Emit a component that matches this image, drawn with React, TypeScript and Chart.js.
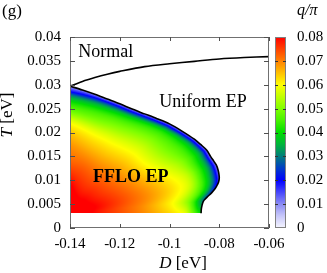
import React, { useEffect, useRef } from 'react';
import { Chart, registerables } from 'chart.js';

Chart.register(...registerables);

// ---------- axes ----------
const xTicks = [-0.14, -0.12, -0.1, -0.08, -0.06];
const yTicks = [0, 0.005, 0.01, 0.015, 0.02, 0.025, 0.03, 0.035, 0.04];
const cbTicks = [0, 0.01, 0.02, 0.03, 0.04, 0.05, 0.06, 0.07, 0.08];

// ---------- phase boundaries ----------
const normalD = [-0.14, -0.135, -0.13, -0.125, -0.12, -0.11, -0.1, -0.09, -0.08, -0.07, -0.06];
const normalT = [0.0297, 0.0307, 0.0315, 0.0322, 0.0328, 0.0338, 0.0344, 0.0349, 0.0354, 0.0357, 0.0359];

const ffloD = [-0.14, -0.135, -0.13, -0.125, -0.12, -0.115, -0.11, -0.105, -0.1, -0.095, -0.09, -0.0875, -0.085, -0.0835, -0.0822, -0.0812, -0.0805, -0.0801, -0.08, -0.0803, -0.0809, -0.0817, -0.083, -0.0844, -0.0856, -0.0864, -0.0869, -0.0872, -0.0873];
const ffloT = [0.0297, 0.0289, 0.028, 0.027, 0.026, 0.0249, 0.0239, 0.0229, 0.0218, 0.0203, 0.0186, 0.0175, 0.0163, 0.015, 0.014, 0.0132, 0.0122, 0.0112, 0.0104, 0.0096, 0.0089, 0.0082, 0.0074, 0.0067, 0.0061, 0.0056, 0.0048, 0.004, 0.0031];
const ffloBottomT = 0.0031;

// ---------- q/pi field, sampled along rays from the lower-left corner ----------
// ray angle (deg) and fraction of the way to the FFLO boundary
const rayAngles = [0, 7.5, 15, 30, 45, 60, 75, 90];
const rayRho = [0, 0.2, 0.4, 0.55, 0.7, 0.8, 0.88, 0.93, 0.96, 0.98, 1.0];
const qRay0 = [0.086, 0.079, 0.0735, 0.0695, 0.065, 0.0617, 0.058, 0.05, 0.045, 0.042, 0.04];
const qRay7 = [0.086, 0.079, 0.073, 0.0685, 0.0625, 0.057, 0.049, 0.041, 0.034, 0.029, 0.025];
const qRay15 = [0.086, 0.079, 0.0725, 0.0675, 0.0615, 0.056, 0.045, 0.036, 0.028, 0.02, 0.012];
const qRay30 = [0.086, 0.078, 0.071, 0.0645, 0.0565, 0.0505, 0.045, 0.039, 0.031, 0.021, 0.012];
const qRay45 = [0.086, 0.078, 0.071, 0.065, 0.058, 0.052, 0.046, 0.04, 0.03, 0.02, 0.012];
const qRay60 = [0.086, 0.078, 0.0715, 0.0655, 0.0585, 0.0515, 0.045, 0.038, 0.028, 0.019, 0.011];
const qRay75 = [0.087, 0.079, 0.0725, 0.0665, 0.059, 0.05, 0.043, 0.035, 0.026, 0.018, 0.01];
const qRay90 = [0.088, 0.0815, 0.0725, 0.068, 0.0605, 0.049, 0.04, 0.03, 0.019, 0.014, 0.01];
const qRays = [qRay0, qRay7, qRay15, qRay30, qRay45, qRay60, qRay75, qRay90];

// ---------- colour map ----------
const cmapQ = [0, 0.005, 0.01, 0.015, 0.02, 0.025, 0.03, 0.035, 0.04, 0.045, 0.05, 0.055, 0.06, 0.065, 0.07, 0.075, 0.08];
const cmapRGB = [
  [246, 246, 255], [200, 200, 250], [140, 140, 245], [70, 70, 252], [0, 0, 255],
  [0, 60, 200], [0, 125, 125], [0, 180, 60], [0, 222, 0], [70, 242, 0],
  [128, 255, 0], [192, 255, 0], [255, 255, 0], [255, 192, 0], [255, 128, 0],
  [255, 64, 0], [255, 0, 0],
];

const FONT = 'Liberation Serif';

function clamp01(v: number) { return v < 0 ? 0 : v > 1 ? 1 : v; }
function findIdx(arr: number[], v: number) {
  let k = 0;
  while (k < arr.length - 2 && v > arr[k + 1]) k++;
  return k;
}
// cubic Hermite (Catmull-Rom style slopes) through tabulated points
function hermite(xs: number[], ys: number[], x: number) {
  const n = xs.length;
  const k = findIdx(xs, x);
  const h = xs[k + 1] - xs[k];
  const t = clamp01((x - xs[k]) / h);
  const slope = (i: number) => {
    if (i <= 0) return (ys[1] - ys[0]) / (xs[1] - xs[0]);
    if (i >= n - 1) return (ys[n - 1] - ys[n - 2]) / (xs[n - 1] - xs[n - 2]);
    return (ys[i + 1] - ys[i - 1]) / (xs[i + 1] - xs[i - 1]);
  };
  const m0 = slope(k), m1 = slope(k + 1);
  const t2 = t * t, t3 = t2 * t;
  return (2 * t3 - 3 * t2 + 1) * ys[k] + (t3 - 2 * t2 + t) * h * m0 + (-2 * t3 + 3 * t2) * ys[k + 1] + (t3 - t2) * h * m1;
}
function qToRGB(q: number): number[] {
  const n = cmapQ.length;
  if (q <= cmapQ[0]) return cmapRGB[0];
  if (q >= cmapQ[n - 1]) return cmapRGB[n - 1];
  const k = findIdx(cmapQ, q);
  const t = (q - cmapQ[k]) / (cmapQ[k + 1] - cmapQ[k]);
  const a = cmapRGB[k], b = cmapRGB[k + 1];
  return [a[0] + (b[0] - a[0]) * t, a[1] + (b[1] - a[1]) * t, a[2] + (b[2] - a[2]) * t];
}
function sampleQ(theta: number, rho: number) {
  const vals = qRays.map((ray) => hermite(rayRho, ray, rho));
  return hermite(rayAngles, vals, theta);
}

const heatPlugin = {
  id: 'heat',
  beforeDatasetsDraw(chart: any) {
    const { ctx, scales } = chart;
    const xs = scales.x, ys = scales.y;
    const ox = xs.getPixelForValue(ffloD[0]);
    const oy = ys.getPixelForValue(ffloBottomT);
    const pts = ffloD.map((d, i) => [xs.getPixelForValue(d) - ox, oy - ys.getPixelForValue(ffloT[i])]);
    const ang = pts.map(([a, b]) => (Math.atan2(b, a) * 180) / Math.PI);
    let maxX = 0, maxY = 0;
    pts.forEach(([a, b]) => { maxX = Math.max(maxX, a); maxY = Math.max(maxY, b); });
    const x0 = Math.floor(ox), y0 = Math.floor(oy - maxY) - 1;
    const w = Math.ceil(maxX) + 2, h = Math.ceil(oy) - y0 + 1;
    const off = document.createElement('canvas');
    off.width = w; off.height = h;
    const octx = off.getContext('2d')!;
    const img = octx.createImageData(w, h);
    for (let j = 0; j < h; j++) {
      for (let i = 0; i < w; i++) {
        const px = x0 + i + 0.5, py = y0 + j + 0.5;
        const dx = px - ox, dy = oy - py;
        if (dx <= 0 || dy <= 0) continue;
        const th = (Math.atan2(dy, dx) * 180) / Math.PI;
        let k = 0;
        while (k < pts.length - 2 && th < ang[k + 1]) k++;
        const ax = pts[k][0], ay = pts[k][1];
        const ddx = pts[k + 1][0] - ax, ddy = pts[k + 1][1] - ay;
        const ux = Math.cos((th * Math.PI) / 180), uy = Math.sin((th * Math.PI) / 180);
        const R = (ax * ddy - ay * ddx) / (ux * ddy - uy * ddx);
        const r = Math.hypot(dx, dy);
        if (r > R) continue;
        const c = qToRGB(sampleQ(th, r / R));
        const idx = (j * w + i) * 4;
        img.data[idx] = c[0]; img.data[idx + 1] = c[1]; img.data[idx + 2] = c[2]; img.data[idx + 3] = 255;
      }
    }
    octx.putImageData(img, 0, 0);
    ctx.drawImage(off, x0, y0);
  },
};

const decorPlugin = {
  id: 'decor',
  afterDatasetsDraw(chart: any) {
    const { ctx, chartArea: ca, scales } = chart;
    const xs = scales.x, ys = scales.y, cb = scales.cb;
    ctx.save();
    // frame
    ctx.strokeStyle = '#707070';
    ctx.lineWidth = 1;
    ctx.strokeRect(Math.round(ca.left) + 0.5, Math.round(ca.top) + 0.5, Math.round(ca.right - ca.left) - 1, Math.round(ca.bottom - ca.top) - 1);
    ctx.strokeStyle = '#505050';
    ctx.beginPath();
    xTicks.forEach((v) => {
      const p = Math.round(xs.getPixelForValue(v)) + 0.5;
      ctx.moveTo(p, ca.bottom); ctx.lineTo(p, ca.bottom - 4);
      ctx.moveTo(p, ca.top); ctx.lineTo(p, ca.top + 4);
    });
    yTicks.forEach((v) => {
      const p = Math.round(ys.getPixelForValue(v)) + 0.5;
      ctx.moveTo(ca.left, p); ctx.lineTo(ca.left + 5, p);
      ctx.moveTo(ca.right, p); ctx.lineTo(ca.right - 5, p);
    });
    ctx.stroke();

    // colour bar
    const barL = Math.round(ca.right) + 6, barW = 11;
    const top = Math.round(cb.getPixelForValue(cbTicks[cbTicks.length - 1]));
    const bot = Math.round(cb.getPixelForValue(cbTicks[0]));
    for (let yy = top; yy < bot; yy++) {
      const c = qToRGB(cb.getValueForPixel(yy + 0.5));
      ctx.fillStyle = `rgb(${c[0] | 0},${c[1] | 0},${c[2] | 0})`;
      ctx.fillRect(barL, yy, barW, 1);
    }
    ctx.strokeStyle = '#808080';
    ctx.strokeRect(barL + 0.5, top + 0.5, barW - 1, bot - top - 1);
    ctx.strokeStyle = '#333';
    ctx.beginPath();
    cbTicks.slice(1, -1).forEach((v) => {
      const p = Math.round(cb.getPixelForValue(v)) + 0.5;
      ctx.moveTo(barL, p); ctx.lineTo(barL + 3, p);
      ctx.moveTo(barL + barW - 3, p); ctx.lineTo(barL + barW, p);
    });
    ctx.stroke();

    // texts
    ctx.fillStyle = '#000';
    ctx.textBaseline = 'alphabetic';
    ctx.textAlign = 'left';
    ctx.font = `18px "${FONT}"`;
    ctx.fillText('Normal', xs.getPixelForValue(-0.1367), ys.getPixelForValue(0.0358));
    ctx.fillText('Uniform EP', xs.getPixelForValue(-0.1041), ys.getPixelForValue(0.0253));
    ctx.font = `bold 18px "${FONT}"`;
    ctx.fillText('FFLO EP', xs.getPixelForValue(-0.1308), ys.getPixelForValue(0.0096));

    ctx.font = `17px "${FONT}"`;
    ctx.fillText('(g)', 2, 16);
    ctx.font = `italic 16px "${FONT}"`;
    ctx.fillText('q/\u03c0', 297, 15);

    // axis titles
    const drawTitle = (ital: string, rest: string, cx: number, cy: number, rot: boolean) => {
      ctx.save();
      ctx.translate(cx, cy);
      if (rot) ctx.rotate(-Math.PI / 2);
      ctx.font = `italic 17px "${FONT}"`;
      const w1 = ctx.measureText(ital).width;
      ctx.font = `17px "${FONT}"`;
      const w2 = ctx.measureText(rest).width;
      const start = -(w1 + w2) / 2;
      ctx.font = `italic 17px "${FONT}"`;
      ctx.fillText(ital, start, 0);
      ctx.font = `17px "${FONT}"`;
      ctx.fillText(rest, start + w1, 0);
      ctx.restore();
    };
    drawTitle('D', ' [eV]', 183, 268, false);
    drawTitle('T', ' [eV]', 12, 115, true);
    ctx.restore();
  },
};

export default function App() {
  const ref = useRef<HTMLCanvasElement | null>(null);
  useEffect(() => {
    if (!ref.current) return;
    const tickFont = { family: FONT, size: 15 };
    const fmt = (v: number, d: number) => (Math.abs(v) < 1e-12 ? '0' : String(parseFloat(v.toFixed(d))));
    const chart = new Chart(ref.current, {
      type: 'scatter',
      data: {
        datasets: [
          {
            data: normalD.map((d, i) => ({ x: d, y: normalT[i] })),
            showLine: true, borderColor: '#000', borderWidth: 1.6, pointRadius: 0, tension: 0.3, fill: false,
          },
          {
            data: ffloD.map((d, i) => ({ x: d, y: ffloT[i] })),
            showLine: true, borderColor: '#000', borderWidth: 1.6, pointRadius: 0, tension: 0.3, fill: false,
          },
        ],
      },
      options: {
        animation: false,
        responsive: false,
        events: [],
        layout: { padding: { top: 28, left: 0, right: 0, bottom: 0 } },
        plugins: { legend: { display: false }, tooltip: { enabled: false } },
        scales: {
          x: {
            type: 'linear', min: -0.14, max: -0.06,
            afterBuildTicks: (s: any) => { s.ticks = xTicks.map((v) => ({ value: v })); },
            afterFit: (s: any) => { s.height = 45; },
            ticks: { font: tickFont, color: '#000', padding: 7, autoSkip: false, maxRotation: 0, callback: (v: any) => fmt(Number(v), 2) },
            grid: { display: false, drawTicks: false },
            border: { display: false },
          },
          y: {
            type: 'linear', min: 0, max: 0.04,
            afterBuildTicks: (s: any) => { s.ticks = yTicks.map((v) => ({ value: v })); },
            afterFit: (s: any) => { s.width = 70; },
            ticks: { font: tickFont, color: '#000', padding: 9, autoSkip: false, callback: (v: any) => fmt(Number(v), 3) },
            grid: { display: false, drawTicks: false },
            border: { display: false },
          },
          cb: {
            type: 'linear', position: 'right', min: 0, max: 0.08,
            afterBuildTicks: (s: any) => { s.ticks = cbTicks.map((v) => ({ value: v })); },
            afterFit: (s: any) => { s.width = 58; },
            ticks: { font: tickFont, color: '#000', padding: 28, autoSkip: false, callback: (v: any) => (Math.abs(Number(v)) < 1e-12 ? '0' : Number(v).toFixed(2)) },
            grid: { display: false, drawTicks: false },
            border: { display: false },
          },
        },
      } as any,
      plugins: [heatPlugin, decorPlugin],
    });
    return () => chart.destroy();
  }, []);
  return (
    <div style={{ position: 'fixed', left: 0, top: 0, width: 327, height: 273, background: '#fff' }}>
      <canvas ref={ref} width={327} height={273} style={{ display: 'block' }} />
    </div>
  );
}
